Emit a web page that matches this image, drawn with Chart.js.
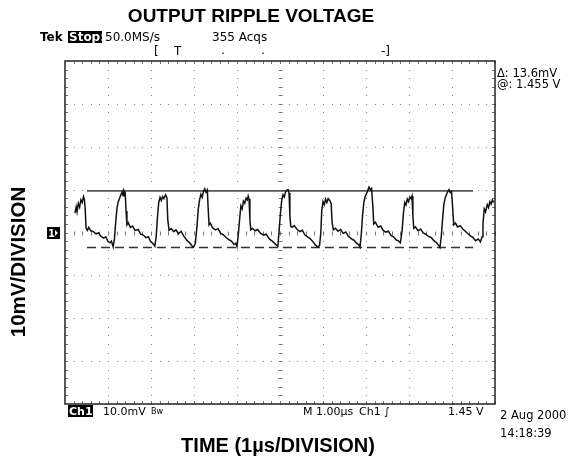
<!DOCTYPE html>
<html>
<head>
<meta charset="utf-8">
<script src="https://cdn.jsdelivr.net/npm/chart.js@4.4.1/dist/chart.umd.min.js"></script>
<style>
  html, body { margin: 0; padding: 0; background: #fff; }
  canvas { display: block; }
</style>
</head>
<body>
<canvas id="scope" width="580" height="464"></canvas>
<script>
// --- Data (time in µs, ripple in mV) ---
const timeUs = [
  0.23,0.26,0.28,0.31,0.34,0.37,0.40,0.43,0.45,0.47,0.49,0.52,0.55,0.60,0.66,0.72,0.78,0.84,0.90,0.95,1.00,1.05,1.08,1.12,
  1.15,1.18,1.21,1.24,1.27,1.30,1.33,1.35,1.37,1.40,1.42,1.44,1.47,1.52,1.57,1.63,1.70,1.76,1.82,1.88,1.94,1.99,2.04,2.09,
  2.12,2.15,2.18,2.21,2.24,2.27,2.30,2.34,2.37,2.39,2.42,2.47,2.53,2.58,2.64,2.70,2.76,2.84,2.90,2.95,2.99,3.03,
  3.07,3.10,3.13,3.16,3.19,3.22,3.25,3.28,3.31,3.33,3.35,3.38,3.44,3.50,3.56,3.62,3.68,3.74,3.80,3.87,3.93,3.97,4.00,
  4.03,4.06,4.09,4.12,4.15,4.18,4.21,4.24,4.26,4.28,4.30,4.32,4.36,4.42,4.48,4.55,4.62,4.68,4.75,4.82,4.88,4.95,
  4.98,5.01,5.04,5.07,5.10,5.13,5.16,5.19,5.21,5.23,5.25,5.28,5.33,5.40,5.46,5.52,5.58,5.64,5.70,5.77,5.82,5.88,5.92,
  5.95,5.97,6.00,6.03,6.06,6.09,6.12,6.16,6.19,6.21,6.24,6.29,6.35,6.41,6.47,6.53,6.59,6.66,6.72,6.78,6.83,6.86,
  6.89,6.92,6.95,6.98,7.01,7.04,7.07,7.10,7.13,7.16,7.18,7.22,7.28,7.34,7.40,7.46,7.52,7.58,7.64,7.70,7.76,7.80,
  7.84,7.87,7.90,7.93,7.96,7.99,8.02,8.05,8.07,8.09,8.11,8.15,8.21,8.27,8.33,8.39,8.45,8.52,8.58,8.64,8.69,8.72,
  8.75,8.78,8.81,8.84,8.87,8.90,8.93,8.96,8.99,9.02,9.04,9.08,9.13,9.19,9.25,9.31,9.37,9.43,9.49,9.55,9.61,9.66,9.70,
  9.72,9.75,9.78,9.82,9.85,9.88,9.91,9.94,9.97
];
const rippleMv = [
  4.5,6.0,4.8,6.8,5.9,7.6,7.0,8.4,7.8,5.5,1.0,0.5,1.2,0.4,0.2,-0.3,-0.1,-0.9,-1.3,-1.0,-2.1,-2.4,-2.0,-3.3,
  -1.5,2.5,5.8,7.2,8.0,8.8,9.5,8.6,9.8,9.2,5.0,1.8,2.3,1.2,1.5,0.5,0.7,-0.4,-0.6,-1.2,-1.0,-2.1,-2.5,-3.2,
  -1.0,3.5,7.0,8.2,7.5,8.4,7.9,8.8,8.1,3.0,0.5,0.9,0.2,0.6,-0.3,0.3,-0.8,-1.9,-2.4,-3.1,-3.4,-2.6,
  1.5,5.5,7.6,8.9,8.2,9.6,10.2,9.4,9.9,5.5,1.8,2.2,1.0,0.6,0.9,-0.2,-0.5,-1.1,-1.6,-2.0,-2.8,-2.5,-3.3,
  -0.5,3.0,6.2,5.5,7.3,6.8,8.0,7.6,8.5,7.8,3.0,0.6,1.0,0.4,0.7,-0.2,-0.6,-0.4,-1.5,-2.0,-2.6,-3.2,
  0.5,4.5,7.5,8.8,8.3,9.5,9.9,10.0,9.2,4.0,1.5,1.2,1.6,0.7,0.2,0.5,-0.6,-1.0,-1.4,-2.2,-2.9,-3.4,-3.0,
  0.0,5.0,7.2,6.5,7.8,7.0,7.9,7.4,6.8,2.5,0.6,1.0,0.3,0.7,-0.2,0.1,-0.9,-1.5,-1.8,-2.5,-2.8,-3.4,
  -0.5,4.0,7.0,8.4,9.0,9.8,10.6,10.0,10.3,6.0,2.0,2.4,1.2,1.5,0.5,0.1,0.3,-0.7,-1.0,-1.7,-2.0,-2.4,
  0.5,4.5,7.0,6.4,7.8,7.2,8.3,7.9,8.5,4.0,1.0,1.3,0.4,0.8,-0.1,-0.4,-0.9,-1.2,-1.9,-2.4,-3.0,-3.5,
  -1.0,3.0,6.5,8.0,8.8,9.5,10.0,9.3,9.6,5.0,1.8,2.2,1.3,1.6,0.8,0.3,-0.3,-0.8,-1.2,-1.9,-1.5,-2.2,-1.0,
  2.0,5.5,4.8,6.5,5.8,7.2,6.6,7.6,7.0
];

// cursors (mV) and the time span they are drawn over (µs)
const cursorLevels = [9.7, -3.5];
const cursorSpan = [0.51, 9.49];

// graticule: 10 horizontal divisions (1 µs), 8 vertical divisions (10 mV)
const timeTicks = [0, 1, 2, 3, 4, 5, 6, 7, 8, 9, 10];
const voltTicks = [-40, -30, -20, -10, 0, 10, 20, 30, 40];

const tracePoints = timeUs.map((t, i) => ({ x: t, y: rippleMv[i] }));

// Dibuja la retícula del osciloscopio y todos los textos de pantalla
const scopeDecor = {
    id: 'scopeDecor',
    beforeDatasetsDraw(chart) {
        const { ctx, chartArea: a, scales: { x, y } } = chart;
        ctx.save();
        // dotted graticule (dots every 1/5 division)
        ctx.fillStyle = '#8a8a8a';
        for (let i = 1; i < timeTicks.length - 1; i++) {
            const px = Math.round(x.getPixelForValue(timeTicks[i]));
            for (let v = voltTicks[0]; v <= voltTicks[voltTicks.length - 1]; v += 2) {
                ctx.fillRect(px, Math.round(y.getPixelForValue(v)), 1, 1);
            }
        }
        for (let j = 1; j < voltTicks.length - 1; j++) {
            const py = Math.round(y.getPixelForValue(voltTicks[j]));
            for (let t = timeTicks[0]; t <= timeTicks[timeTicks.length - 1]; t += 0.2) {
                ctx.fillRect(Math.round(x.getPixelForValue(t)), py, 1, 1);
            }
        }
        // centre cross minor ticks
        ctx.strokeStyle = '#777';
        ctx.lineWidth = 1;
        const cx = Math.round(x.getPixelForValue(5)) + 0.5;
        const cy = Math.round(y.getPixelForValue(0)) + 0.5;
        ctx.beginPath();
        for (let t = 0.2; t < 10; t += 0.2) {
            const px = Math.round(x.getPixelForValue(t)) + 0.5;
            ctx.moveTo(px, cy - 2); ctx.lineTo(px, cy + 2);
            ctx.moveTo(px, a.top); ctx.lineTo(px, a.top + 3);
            ctx.moveTo(px, a.bottom); ctx.lineTo(px, a.bottom - 3);
        }
        for (let v = -38; v < 40; v += 2) {
            const py = Math.round(y.getPixelForValue(v)) + 0.5;
            ctx.moveTo(cx - 2, py); ctx.lineTo(cx + 2, py);
            ctx.moveTo(a.left, py); ctx.lineTo(a.left + 3, py);
            ctx.moveTo(a.right, py); ctx.lineTo(a.right - 3, py);
        }
        ctx.stroke();
        // frame
        ctx.strokeStyle = '#222';
        ctx.lineWidth = 1.5;
        ctx.strokeRect(a.left, a.top, a.right - a.left, a.bottom - a.top);
        ctx.restore();
    },
    afterDraw(chart) {
        const { ctx, scales: { y } } = chart;
        ctx.save();
        ctx.fillStyle = '#000';
        ctx.textBaseline = 'alphabetic';

        // titles
        ctx.font = 'bold 19px "Liberation Sans", Arial, sans-serif';
        ctx.textAlign = 'center';
        ctx.fillText('OUTPUT RIPPLE VOLTAGE', 251, 22);
        ctx.font = 'bold 20px "Liberation Sans", Arial, sans-serif';
        ctx.fillText('TIME (1\u00b5s/DIVISION)', 278, 452);
        ctx.save();
        ctx.translate(19, 262);
        ctx.rotate(-Math.PI / 2);
        ctx.textBaseline = 'middle';
        ctx.font = 'bold 20.5px "Liberation Sans", Arial, sans-serif';
        ctx.fillText('10mV/DIVISION', 0, 0);
        ctx.restore();

        // scope status line
        ctx.textAlign = 'left';
        ctx.font = 'bold 12px "DejaVu Sans", sans-serif';
        ctx.fillText('Tek', 40, 41);
        ctx.fillRect(68, 31, 34, 12);
        ctx.fillStyle = '#fff';
        ctx.fillText('Stop:', 69, 41);
        ctx.fillStyle = '#000';
        ctx.font = '12px "DejaVu Sans", sans-serif';
        ctx.fillText('50.0MS/s', 105, 41);
        ctx.fillText('355 Acqs', 212, 41);
        ctx.fillText('[', 154, 55);
        ctx.fillText('T', 174, 55);
        ctx.fillText('.', 221, 54);
        ctx.fillText('.', 261, 54);
        ctx.fillText('-]', 381, 55);

        // cursor readout
        ctx.font = '11.5px "DejaVu Sans", sans-serif';
        ctx.fillText('\u0394: 13.6mV', 497, 77);
        ctx.fillText('@: 1.455 V', 497, 88);

        // bottom readout
        ctx.fillRect(68, 405, 25, 12);
        ctx.fillStyle = '#fff';
        ctx.font = 'bold 11px "DejaVu Sans", sans-serif';
        ctx.fillText('Ch1', 69, 415);
        ctx.fillStyle = '#000';
        ctx.font = '11px "DejaVu Sans", sans-serif';
        ctx.fillText('10.0mV', 103, 415);
        ctx.font = '8px "DejaVu Sans", sans-serif';
        ctx.fillText('Bw', 151, 414);
        ctx.font = '11px "DejaVu Sans", sans-serif';
        ctx.fillText('M 1.00\u00b5s', 303, 415);
        ctx.fillText('Ch1 \u222b', 359, 415);
        ctx.fillText('1.45 V', 448, 415);
        ctx.font = '11.5px "DejaVu Sans", sans-serif';
        ctx.fillText('2 Aug 2000', 500, 419);
        ctx.fillText('14:18:39', 500, 437);

        // channel 1 ground marker
        const gy = Math.round(y.getPixelForValue(0));
        ctx.fillRect(47, gy - 6, 13, 12);
        ctx.fillStyle = '#fff';
        ctx.font = 'bold 10px "DejaVu Sans", sans-serif';
        ctx.fillText('1', 48, gy + 4);
        ctx.beginPath();
        ctx.moveTo(55, gy - 3); ctx.lineTo(58, gy); ctx.lineTo(55, gy + 3);
        ctx.fill();
        ctx.restore();
    }
};

new Chart(document.getElementById('scope'), {
    type: 'scatter',
    data: {
        datasets: [
            {
                label: 'Ch1',
                data: tracePoints,
                showLine: true,
                borderColor: '#111',
                borderWidth: 1.5,
                pointRadius: 0,
                tension: 0
            },
            {
                label: 'cursor A',
                data: cursorSpan.map(t => ({ x: t, y: cursorLevels[0] })),
                showLine: true,
                borderColor: '#555',
                borderWidth: 1.6,
                pointRadius: 0
            },
            {
                label: 'cursor B',
                data: cursorSpan.map(t => ({ x: t, y: cursorLevels[1] })),
                showLine: true,
                borderColor: '#333',
                borderWidth: 1.3,
                borderDash: [9, 5],
                pointRadius: 0
            }
        ]
    },
    options: {
        responsive: false,
        animation: false,
        layout: { padding: { left: 65, top: 61, right: 85, bottom: 60 } },
        plugins: { legend: { display: false }, tooltip: { enabled: false } },
        scales: {
            x: { type: 'linear', min: timeTicks[0], max: timeTicks[timeTicks.length - 1], display: false },
            y: { type: 'linear', min: voltTicks[0], max: voltTicks[voltTicks.length - 1], display: false }
        }
    },
    plugins: [scopeDecor]
});
</script>
</body>
</html>
